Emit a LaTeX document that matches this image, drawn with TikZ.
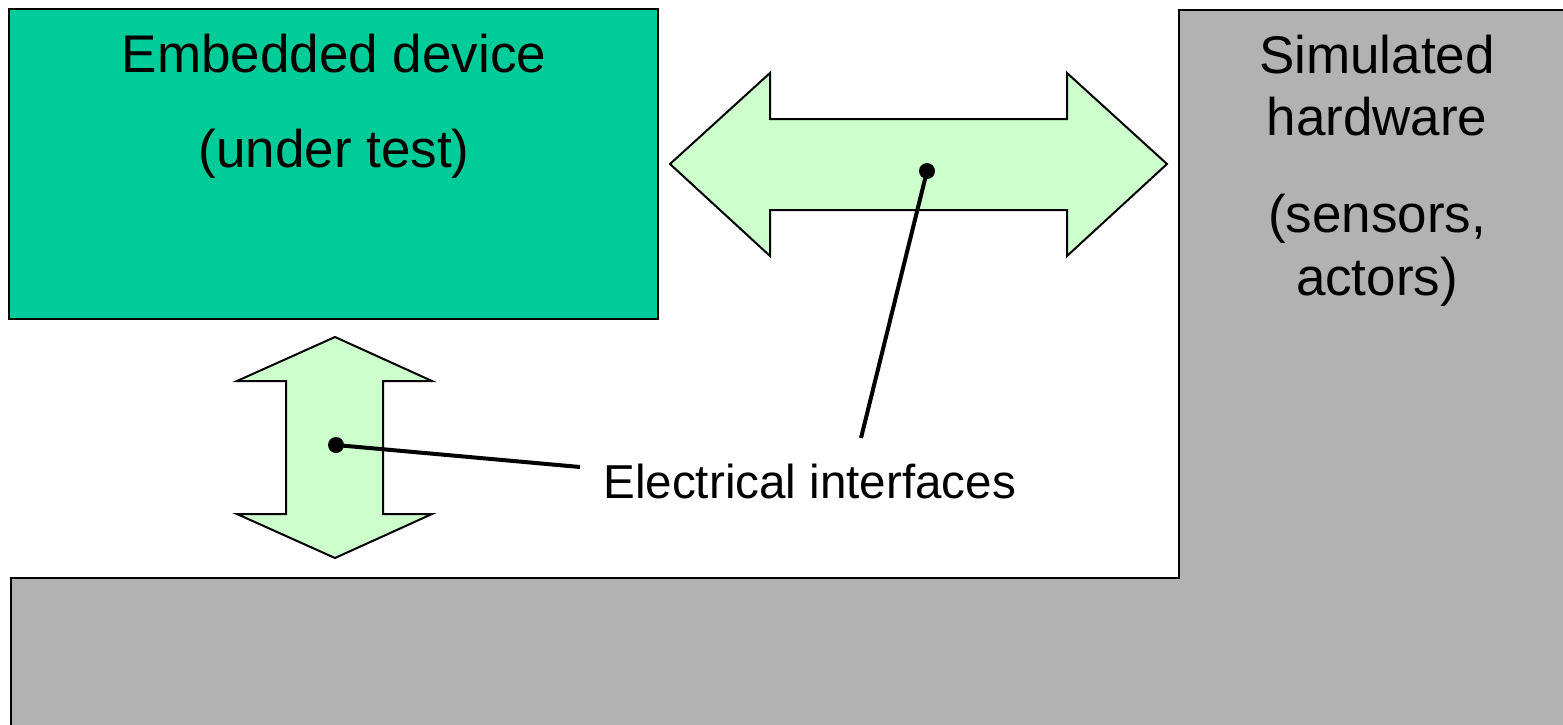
\documentclass[tikz,border=0pt]{standalone}
\usepackage{fontspec}
\setmainfont{Liberation Sans}
\definecolor{devgreen}{HTML}{00CC99}
\definecolor{ifgreen}{HTML}{CCFFCC}
\definecolor{hwgray}{HTML}{B2B2B2}
\begin{document}
\begin{tikzpicture}[x=0.5pt,y=-0.5pt,
  shapeline/.style={draw=black,line width=1pt,line join=miter},
  bigtext/.style={font=\fontsize{26.5}{30}\selectfont,inner sep=0pt,anchor=base},
  labeltext/.style={font=\fontsize{23.8}{28}\selectfont,inner sep=0pt,anchor=base west},
  pin/.style={circle,fill=black,inner sep=0pt,minimum size=8pt},
  leader/.style={draw=black,line width=2pt}]
\useasboundingbox (0,0) rectangle (1563,724);
% simulated hardware (L-shaped gray area)
\path[shapeline,fill=hwgray] (11,730) -- (11,578) -- (1179,578) -- (1179,10) -- (1570,10) -- (1570,730) -- cycle;
% embedded device
\path[draw=black,line width=0.7pt,fill=devgreen] (9,9) rectangle (658,319);
% horizontal double arrow
\path[shapeline,fill=ifgreen] (670,164) -- (770,73) -- (770,119) -- (1067,119) -- (1067,73) -- (1167,164)
  -- (1067,256) -- (1067,210) -- (770,210) -- (770,256) -- cycle;
% vertical double arrow
\path[shapeline,fill=ifgreen] (335,337) -- (432,381) -- (383,381) -- (383,514) -- (432,514) -- (335,558)
  -- (237,514) -- (286,514) -- (286,381) -- (237,381) -- cycle;
% texts
\node[bigtext] (emb1) at (334,72) {Embedded device};
\node[bigtext] (emb2) at (334,167) {(under test)};
\node[bigtext] (sim1) at (1377,73) {Simulated};
\node[bigtext] (sim2) at (1377,135) {hardware};
\node[bigtext] (sim3) at (1377,232) {(sensors,};
\node[bigtext] (sim4) at (1377,295) {actors)};
\node[labeltext] (lbl) at (603,498) {Electrical interfaces};
% leaders
\node[pin] (dotv) at (336,445) {};
\node[pin] (doth) at (927,171) {};
\coordinate (endv) at (580,467);
\coordinate (endh) at (861,438);
\draw[leader] (dotv.center) -- (endv);
\draw[leader] (doth.center) -- (endh);
\end{tikzpicture}
\end{document}
